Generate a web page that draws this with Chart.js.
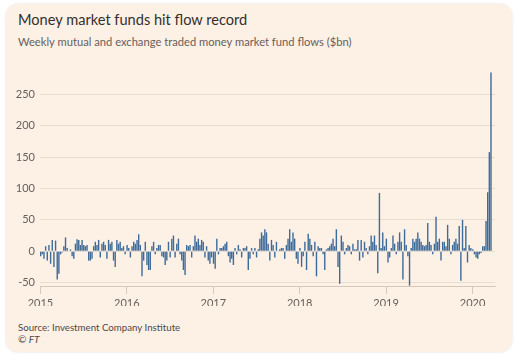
<!DOCTYPE html>
<html>
<head>
<meta charset="utf-8">
<script src="https://cdn.jsdelivr.net/npm/chart.js@4/dist/chart.umd.min.js"></script>
<style>
  html, body { margin: 0; padding: 0; background: #ffffff; width: 518px; height: 361px; overflow: hidden; }
  #card { position: absolute; left: 6px; top: 4px; width: 506px; height: 348px; background: #fdf0e5;
          border-radius: 12px; box-shadow: 0 0 3px rgba(0,0,0,0.12); }
  #wrap { position: absolute; left: 0; top: 0; width: 518px; height: 361px; }
  .t { position: absolute; left: 18px; white-space: nowrap; font-family: Lato, "Liberation Sans", sans-serif; }
  #title { top: 10px; font-size: 14.6px; color: #33302e; transform-origin: left top; transform: scaleY(1.1); }
  #sub { top: 35px; font-size: 11.2px; color: #66605c; }
  #src { top: 321px; font-size: 9.7px; color: #4d4845; }
  #ft { top: 333px; font-size: 10px; color: #4d4845; font-style: italic; }
</style>
</head>
<body>
<div id="card"></div>
<div class="t" id="title">Money market funds hit flow record</div>
<div class="t" id="sub">Weekly mutual and exchange traded money market fund flows ($bn)</div>
<div class="t" id="src">Source: Investment Company Institute</div>
<div class="t" id="ft">© FT</div>
<div id="wrap"><canvas id="c" width="518" height="361"></canvas></div>
<script>
// Weekly flows ($bn), one value per week
const flows2015 = [-8,-5,-12,8,-15,10,-20,18,-25,17,-45,-36,-5,-2,8,22,5,0,3,-8,-12,12,19,18,10,18,10,8,10,-15,-15,-12,8,15,10,18,-10,12,15,10,-12,18,12,15,-15,-25,18,12,15,5,8,-5];
const flows2016 = [10,5,-10,8,15,12,18,27,10,-40,-15,15,-22,-30,-30,8,15,-5,5,10,10,-8,-10,-22,-15,15,-10,20,25,-10,12,20,-5,-15,-30,-38,10,8,10,-10,8,25,15,20,10,18,15,-10,8,-15,-20,-10];
const flows2017 = [-20,-28,20,-5,5,5,8,12,15,-8,-18,-12,-22,5,-5,10,3,-10,5,5,8,-30,-12,5,-5,5,-10,3,20,30,25,35,30,12,-15,18,10,-10,15,0,3,5,5,-12,10,20,35,15,30,20,-12,-20];
const flows2018 = [5,-25,-8,15,-30,28,20,10,-8,15,-40,8,5,5,-5,-30,3,5,8,12,20,8,35,-25,-52,25,15,-5,5,10,8,-5,12,3,3,18,-15,18,-10,15,5,-5,8,25,15,25,10,-35,93,5,30,8];
const flows2019 = [20,-18,-10,5,25,12,-5,15,30,15,-45,35,10,-8,-55,5,20,15,20,30,20,15,10,8,10,45,15,10,-5,12,55,15,20,-15,15,15,8,42,20,-5,10,15,20,12,40,-47,50,5,40,-18,10,5];
const flows2020 = [3,-5,-10,-12,-5,-3,8,8,48,94,158,285];
const years = [2015, 2016, 2017, 2018, 2019, 2020];
const yearTicks = [2015, 2016, 2017, 2018, 2019, 2020];
const valueTicks = [-50, 0, 50, 100, 150, 200, 250];

const allYears = [flows2015, flows2016, flows2017, flows2018, flows2019, flows2020];
const points = [];
allYears.forEach((arr, k) => {
  arr.forEach((v, i) => {
    points.push({ x: years[k] + (i * 7 + 1) / 365.25, y: v });
  });
});

const gridCol = '#e8ddd3';
const axisCol = '#d3c8be';
const labelCol = '#66605c';
const fontFam = 'Lato, "Liberation Sans", sans-serif';

new Chart(document.getElementById('c'), {
  type: 'bar',
  data: {
    datasets: [{
      data: points,
      backgroundColor: '#3f6b99',
      borderWidth: 0,
      barPercentage: 0.85,
      categoryPercentage: 1.0
    }]
  },
  options: {
    responsive: false,
    animation: false,
    events: [],
    layout: { padding: { top: 70, right: 23, bottom: 55, left: 8 } },
    plugins: { legend: { display: false }, tooltip: { enabled: false }, title: { display: false } },
    scales: {
      x: {
        type: 'linear',
        min: 2014.995,
        max: 2020.26,
        offset: false,
        afterBuildTicks: s => { s.ticks = yearTicks.map(v => ({ value: v })); },
        afterFit: s => { s.height = 20; },
        grid: { offset: false, drawOnChartArea: false, drawTicks: true, tickLength: 8, color: axisCol },
        border: { display: true, color: axisCol, width: 1 },
        ticks: { autoSkip: false, maxRotation: 0, padding: 3, color: labelCol,
                 font: { family: fontFam, size: 11 }, callback: v => String(v) }
      },
      y: {
        min: -55.5,
        max: 289,
        afterBuildTicks: s => { s.ticks = valueTicks.map(v => ({ value: v })); },
        afterFit: s => { s.width = 32; },
        grid: { color: gridCol, drawTicks: false },
        border: { display: false },
        ticks: { padding: 5, color: labelCol, font: { family: fontFam, size: 11 } }
      }
    }
  }
});
</script>
</body>
</html>
